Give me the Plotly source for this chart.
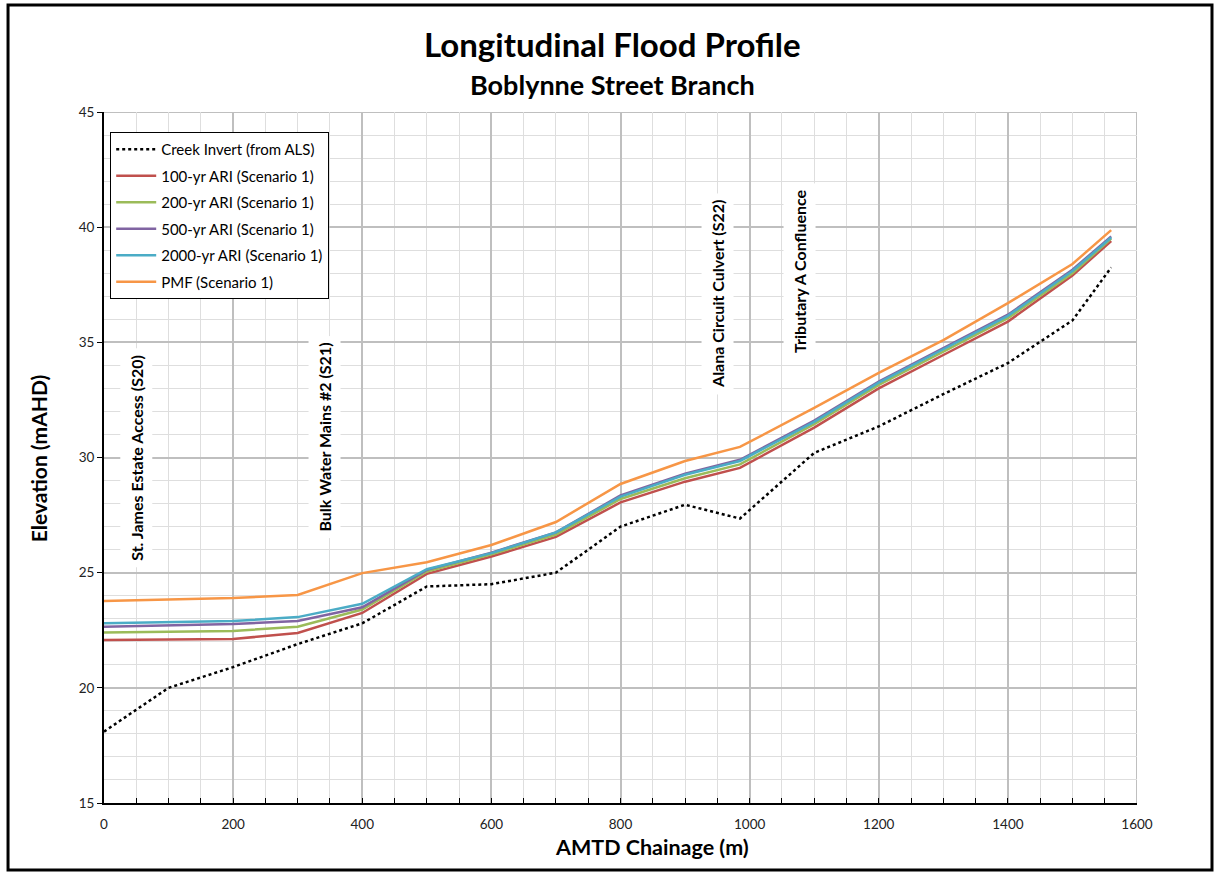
import plotly.graph_objects as go

# Chainage (m) for flood-level series and creek invert
chainage = [0, 200, 300, 400, 500, 600, 700, 800, 900, 985, 1100, 1200, 1300, 1400, 1500, 1560]
invert_chainage = [0, 100, 200, 300, 400, 500, 600, 700, 800, 900, 985, 1100, 1200, 1300, 1400, 1500, 1560]

creek_invert = [18.1, 20.0, 20.9, 21.9, 22.8, 24.4, 24.5, 25.0, 27.0, 27.95, 27.35, 30.2, 31.35, 32.75, 34.1, 35.95, 38.25]
ari_100 = [22.08, 22.12, 22.38, 23.25, 24.95, 25.7, 26.55, 28.05, 28.95, 29.55, 31.3, 33.0, 34.45, 35.9, 37.9, 39.4]
ari_200 = [22.4, 22.47, 22.65, 23.4, 25.05, 25.8, 26.65, 28.2, 29.1, 29.7, 31.45, 33.15, 34.6, 36.05, 38.0, 39.5]
ari_500 = [22.65, 22.77, 22.9, 23.5, 25.12, 25.87, 26.75, 28.35, 29.3, 29.9, 31.6, 33.3, 34.75, 36.2, 38.15, 39.6]
ari_2000 = [22.8, 22.9, 23.07, 23.65, 25.15, 25.85, 26.75, 28.3, 29.25, 29.85, 31.55, 33.25, 34.7, 36.15, 38.1, 39.55]
pmf = [23.77, 23.9, 24.03, 24.98, 25.45, 26.2, 27.2, 28.85, 29.85, 30.46, 32.15, 33.67, 35.1, 36.7, 38.4, 39.87]

# Structure / feature labels: (text, chainage, elevation)
features = [
    ("St. James Estate Access (S20)", 50, 30.0),
    ("Bulk Water Mains #2 (S21)", 342, 30.9),
    ("Alana Circuit Culvert (S22)", 951, 37.1),
    ("Tributary A Confluence", 1078, 38.1),
]

FONT = "Lato"

fig = go.Figure()
fig.add_trace(go.Scatter(x=invert_chainage, y=creek_invert, mode="lines",
                         name="Creek Invert (from ALS)", legendgroup="g0",
                         line=dict(color="black", width=2.5, dash="dot")))
series = [
    ("100-yr ARI (Scenario 1)", ari_100, "#C0504D"),
    ("200-yr ARI (Scenario 1)", ari_200, "#9BBB59"),
    ("500-yr ARI (Scenario 1)", ari_500, "#8064A2"),
    ("2000-yr ARI (Scenario 1)", ari_2000, "#4BACC6"),
    ("PMF (Scenario 1)", pmf, "#F79646"),
]
for i, (name, vals, col) in enumerate(series, start=1):
    fig.add_trace(go.Scatter(x=chainage, y=vals, mode="lines", name=name,
                             legendgroup="g%d" % i,
                             line=dict(color=col, width=2.5)))

annotations = []
for text, cx, cy in features:
    annotations.append(dict(x=cx, y=cy, xref="x", yref="y", text="<b>%s</b>" % text,
                            textangle=-90, showarrow=False, bgcolor="white",
                            xanchor="center", yanchor="middle",
                            borderpad=6, font=dict(family=FONT, size=16, color="black")))

annotations += [
    dict(x=0.4918, y=1.098, xref="paper", yref="paper", showarrow=False,
         xanchor="center", yanchor="middle",
         text="<b>Longitudinal Flood Profile</b>", font=dict(family=FONT, size=33, color="black")),
    dict(x=0.4918, y=1.0405, xref="paper", yref="paper", showarrow=False,
         xanchor="center", yanchor="middle",
         text="<b>Boblynne Street Branch</b>", font=dict(family=FONT, size=27, color="black")),
    dict(x=-0.0639, y=0.499, xref="paper", yref="paper", showarrow=False, textangle=-90,
         xanchor="center", yanchor="middle",
         text="<b>Elevation (mAHD)</b>", font=dict(family=FONT, size=21, color="black")),
    dict(x=0.5305, y=-0.0637, xref="paper", yref="paper", showarrow=False,
         xanchor="center", yanchor="middle",
         text="<b>AMTD Chainage (m)</b>", font=dict(family=FONT, size=21.5, color="black")),
]

fig.update_layout(
    width=1219, height=879,
    margin=dict(l=104, r=82, t=112, b=76),
    paper_bgcolor="white", plot_bgcolor="white",
    font=dict(family=FONT, size=13, color="#222222"),
    showlegend=True,
    legend=dict(x=0.006, y=0.971, xanchor="left", yanchor="top",
                bgcolor="white", bordercolor="black", borderwidth=1,
                font=dict(family=FONT, size=15, color="black"),
                itemwidth=40, tracegroupgap=4),
    annotations=annotations,
    shapes=[dict(type="rect", xref="paper", yref="paper",
                 x0=-0.0929, x1=1.0726, y0=-0.097, y1=1.1549,
                 line=dict(color="black", width=3), fillcolor="rgba(0,0,0,0)", layer="above")],
)

fig.update_xaxes(range=[0, 1600], dtick=200, tick0=0,
                 showgrid=True, gridcolor="#bfbfbf", gridwidth=2,
                 showline=True, linecolor="black", linewidth=2,
                 ticks="inside", ticklen=5, tickcolor="black",
                 ticklabelstandoff=8,
                 minor=dict(dtick=50, showgrid=True, gridcolor="#dedede", gridwidth=1,
                            ticks="inside", ticklen=5, tickcolor="black"),
                 zeroline=False, mirror=False,
                 tickfont=dict(family=FONT, size=13.5, color="#222222"))
fig.update_yaxes(range=[15, 45], dtick=5, tick0=15,
                 showgrid=True, gridcolor="#bfbfbf", gridwidth=2,
                 showline=True, linecolor="black", linewidth=2,
                 ticks="outside", ticklen=5, tickcolor="black",
                 minor=dict(dtick=1, showgrid=True, gridcolor="#dedede", gridwidth=1),
                 zeroline=False,
                 tickfont=dict(family=FONT, size=13.5, color="#222222"))

# Outer gridlines along the top and right edges of the plot area
fig.add_shape(type="line", xref="x", yref="y", x0=0, x1=1600, y0=45, y1=45,
              line=dict(color="#bfbfbf", width=2), layer="below")
fig.add_shape(type="line", xref="x", yref="y", x0=1600, x1=1600, y0=15, y1=45,
              line=dict(color="#bfbfbf", width=2), layer="below")

fig.write_html("out.html")
